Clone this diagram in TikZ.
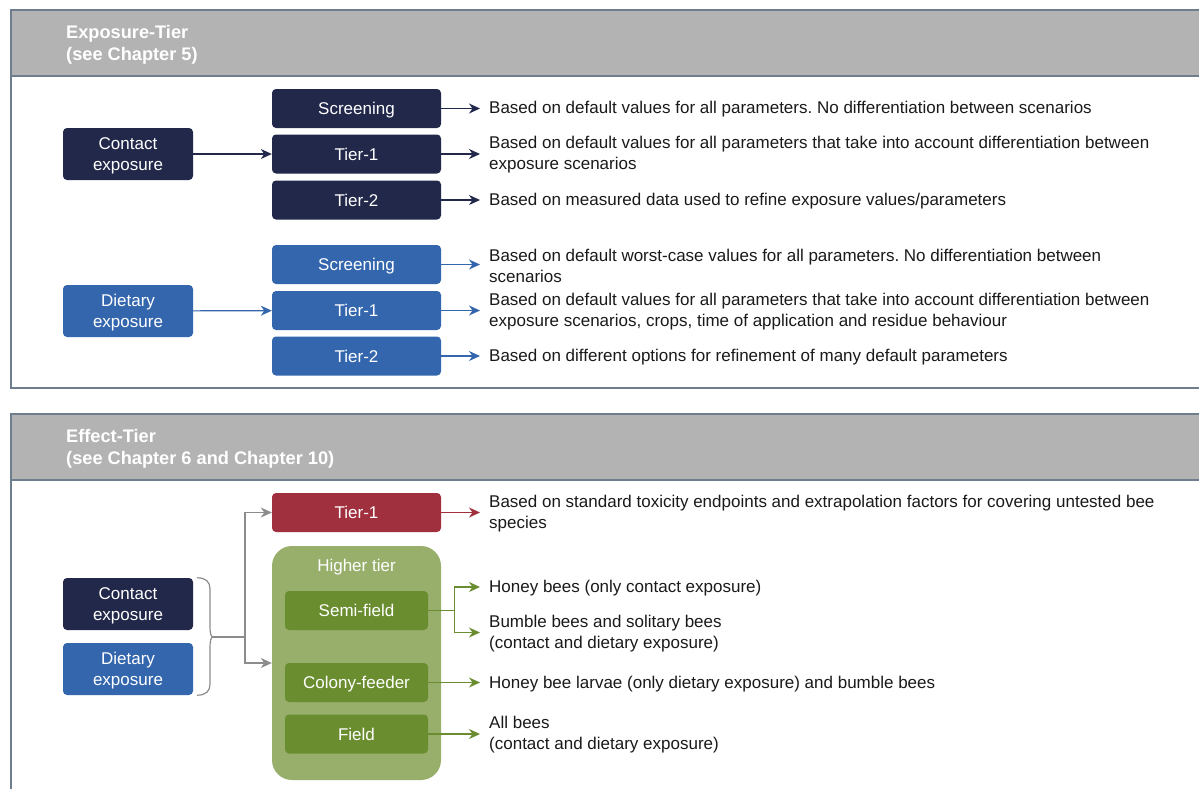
\documentclass[tikz,border=0pt]{standalone}
\usepackage{fontspec}
\setmainfont{Liberation Sans}
\usetikzlibrary{arrows.meta,positioning}
\definecolor{navy}{HTML}{22284A}
\definecolor{bblue}{HTML}{3466AE}
\definecolor{bred}{HTML}{A0303E}
\definecolor{lgreen}{HTML}{97AF6B}
\definecolor{dgreen}{HTML}{6A8E2F}
\definecolor{hgray}{HTML}{B3B3B3}
\definecolor{bordercol}{HTML}{6E7E8E}
\definecolor{arrgray}{HTML}{8C8C8C}
\definecolor{textcol}{HTML}{1A1A1A}
\frenchspacing
\newcommand{\descfont}{\fontsize{17}{21}\selectfont}
\newcommand{\boxfont}{\fontsize{17}{21}\selectfont}
\newcommand{\headfont}{\fontsize{18.2}{22}\selectfont\bfseries}
\tikzset{
  panelline/.style={draw=bordercol, line width=1.4pt},
  headfill/.style={fill=hgray},
  headtext/.style={anchor=north west, align=left, text=white, font=\headfont, inner sep=0pt},
  tbox/.style={rounded corners=4pt, text=white, font=\boxfont, align=center, inner sep=0pt, text depth=0pt, minimum width=169pt, minimum height=39pt},
  srcbox/.style={tbox, minimum width=130pt, minimum height=52pt},
  desc/.style={anchor=west, align=left, font=\descfont, text=textcol, inner sep=0pt, yshift=-1pt},
  arr/.style={line width=1.2pt, -{Stealth[length=11pt,width=10pt,inset=3.5pt]}},
}
\begin{document}
\begin{tikzpicture}[x=1pt,y=-1pt]
\useasboundingbox (0,0) rectangle (1199,788);
\fill[white] (0,0) rectangle (1199,788);
% ---------- Panel 1 ----------
\fill[headfill] (11,10) rectangle (1200,76);
\draw[panelline] (1200,10) -- (11,10) -- (11,388) -- (1200,388);
\draw[panelline] (11,76) -- (1200,76);
\node[headtext] (h1) at (66,25.5) {Exposure-Tier\\(see Chapter 5)};
% source
\node[srcbox, fill=navy] (ce1) at (128,154) {Contact\\exposure};
\node[srcbox, fill=bblue] (de1) at (128,311) {Dietary\\exposure};
% tiers contact
\node[tbox, fill=navy] (cs) at (356.5,108.5) {Screening};
\node[tbox, fill=navy] (ct1) at (356.5,154) {Tier-1};
\node[tbox, fill=navy] (ct2) at (356.5,200) {Tier-2};
% tiers dietary
\node[tbox, fill=bblue] (ds) at (356.5,264.5) {Screening};
\node[tbox, fill=bblue] (dt1) at (356.5,310.5) {Tier-1};
\node[tbox, fill=bblue] (dt2) at (356.5,356) {Tier-2};
% descriptions
\node[desc] (csd) at (489,108.5) {Based on default values for all parameters. No differentiation between scenarios};
\node[desc] (ct1d) at (489,154) {Based on default values for all parameters that take into account differentiation between\\exposure scenarios};
\node[desc] (ct2d) at (489,200) {Based on measured data used to refine exposure values/parameters};
\node[desc] (dsd) at (489,264.5) {Based on default worst-case values for all parameters. No differentiation between\\scenarios};
\node[desc] (dt1d) at (489,310.5) {Based on default values for all parameters that take into account differentiation between\\exposure scenarios, crops, time of application and residue behaviour};
\node[desc] (dt2d) at (489,356) {Based on different options for refinement of many default parameters};
% arrows
\draw[arr, navy] (ce1) -- (ct1);
\draw[arr, bblue] (de1) -- (dt1);
\draw[arr, navy, shorten >=9pt] (cs) -- (cs -| csd.west);
\draw[arr, navy, shorten >=9pt] (ct1) -- (ct1 -| ct1d.west);
\draw[arr, navy, shorten >=9pt] (ct2) -- (ct2 -| ct2d.west);
\draw[arr, bblue, shorten >=9pt] (ds) -- (ds -| dsd.west);
\draw[arr, bblue, shorten >=9pt] (dt1) -- (dt1 -| dt1d.west);
\draw[arr, bblue, shorten >=9pt] (dt2) -- (dt2 -| dt2d.west);
% ---------- Panel 2 ----------
\fill[headfill] (11,414) rectangle (1200,480);
\draw[panelline] (1200,414) -- (11,414) -- (11,790);
\draw[panelline] (11,480) -- (1200,480);
\node[headtext] (h2) at (66,429.5) {Effect-Tier\\(see Chapter 6 and Chapter 10)};
\node[srcbox, fill=navy] (ce2) at (128,604) {Contact\\exposure};
\node[srcbox, fill=bblue] (de2) at (128,669) {Dietary\\exposure};
\node[tbox, fill=bred] (et1) at (356.5,512.5) {Tier-1};
\node[rounded corners=20pt, fill=lgreen, minimum width=169pt, minimum height=234pt, inner sep=0pt] (ht) at (356.5,663) {};
\node[text=white, font=\boxfont, inner sep=0pt, text depth=0pt] (htl) at (356.5,565) {Higher tier};
\node[tbox, fill=dgreen, minimum width=143pt] (sf) at (356.5,610.5) {Semi-field};
\node[tbox, fill=dgreen, minimum width=143pt] (cf) at (356.5,682.5) {Colony-feeder};
\node[tbox, fill=dgreen, minimum width=143pt] (fd) at (356.5,734) {Field};
% descriptions
\node[desc] (et1d) at (489,512.5) {Based on standard toxicity endpoints and extrapolation factors for covering untested bee\\species};
\node[desc] (hbd) at (489,587) {Honey bees (only contact exposure)};
\node[desc] (bbd) at (489,632.5) {Bumble bees and solitary bees\\(contact and dietary exposure)};
\node[desc] (cfd) at (489,683) {Honey bee larvae (only dietary exposure) and bumble bees};
\node[desc] (fdd) at (489,733.5) {All bees\\(contact and dietary exposure)};
% brace
\coordinate (bt) at ([xshift=4pt]ce2.north east);
\coordinate (bb) at ([xshift=4pt]de2.south east);
\coordinate (bc) at (213,637);
\coordinate (bj) at (245,637);
\draw[arrgray, line width=1.2pt] (bt) .. controls +(9,0) and +(0,-7) .. (210,589) -- (210,627) .. controls +(0,6) and +(-2,0) .. (bc)
  .. controls +(-2,0) and +(0,-6) .. (210,647) -- (210,684) .. controls +(0,7) and +(9,0) .. (bb);
\draw[arrgray, line width=1.2pt] (bc) -- (bj);
\draw[arr, arrgray] (bj) |- (et1.west);
\draw[arr, arrgray] (bj) |- (ht.west);
% green & red arrows
\draw[arr, bred, shorten >=9pt] (et1) -- (et1 -| et1d.west);
\coordinate (sj) at ([xshift=26pt]sf.east);
\draw[dgreen, line width=1.2pt] (sf.east) -- (sj);
\coordinate (hbe) at (489,587);
\coordinate (bbe) at (489,632.5);
\draw[arr, dgreen, shorten >=9pt] (sj) |- (hbe);
\draw[arr, dgreen, shorten >=9pt] (sj) |- (bbe);
\draw[arr, dgreen, shorten >=9pt] (cf) -- (cf -| cfd.west);
\draw[arr, dgreen, shorten >=9pt] (fd) -- (fd -| fdd.west);
\end{tikzpicture}
\end{document}
